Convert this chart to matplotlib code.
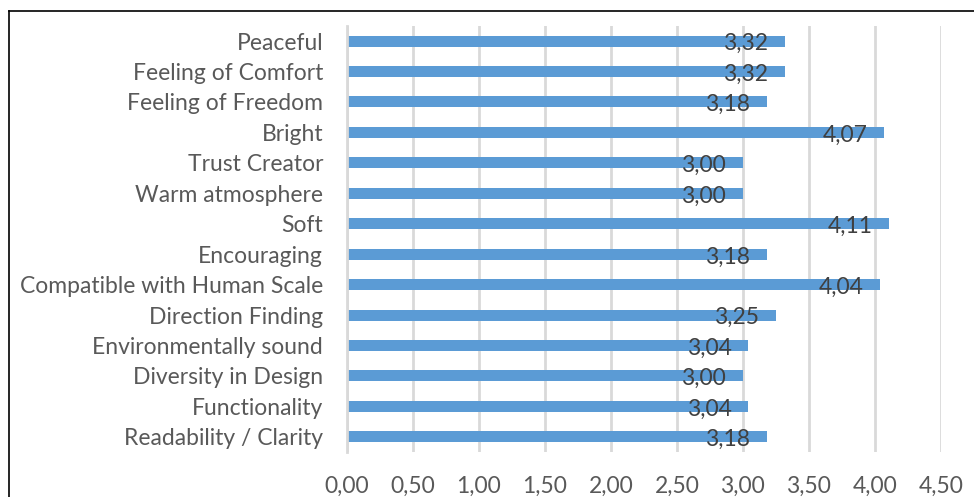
import matplotlib
matplotlib.use("Agg")
import matplotlib.pyplot as plt
from matplotlib.lines import Line2D
import numpy as np

plt.rcParams['font.family'] = ['Lato', 'DejaVu Sans']

categories = ["Peaceful", "Feeling of Comfort", "Feeling of Freedom", "Bright",
              "Trust Creator", "Warm atmosphere", "Soft", "Encouraging",
              "Compatible with Human Scale", "Direction Finding",
              "Environmentally sound", "Diversity in Design", "Functionality",
              "Readability / Clarity"]
values = [3.32, 3.32, 3.18, 4.07, 3.00, 3.00, 4.11, 3.18, 4.04, 3.25,
          3.04, 3.00, 3.04, 3.18]
xticks = [0, 0.5, 1.0, 1.5, 2.0, 2.5, 3.0, 3.5, 4.0, 4.5]

fig = plt.figure(figsize=(9.74, 4.97), dpi=100)
ax = fig.add_axes([0.356, 0.0905, 0.61, 0.8575])

y = np.arange(len(categories))
ax.barh(y, values, height=0.36, color="#5B9BD5", zorder=2)
ax.set_ylim(len(categories) - 0.5, -0.5)
ax.set_xlim(0, 4.5)

for yi, v in zip(y, values):
    ax.annotate(("%.2f" % v).replace(".", ","), (v, yi), xytext=(-12, -2),
                textcoords="offset points", ha="right", va="center",
                fontsize=16.5, color="#404040", zorder=3)

ax.set_yticks(y)
ax.set_yticklabels(categories)
ax.set_xticks(xticks)
ax.set_xticklabels([("%.2f" % t).replace(".", ",") for t in xticks])
ax.tick_params(axis="y", length=0, pad=17, labelsize=16.5, labelcolor="#595959")
ax.tick_params(axis="x", length=0, pad=17, labelsize=16.5, labelcolor="#595959")
ax.grid(axis="x", color="#d9d9d9", linewidth=2, zorder=0)
for s in ["top", "right", "bottom"]:
    ax.spines[s].set_visible(False)
ax.spines["left"].set_color("#d9d9d9")
ax.spines["left"].set_linewidth(2)

# outer border (chart frame cut by the screenshot)
fig.add_artist(Line2D([9 / 974, 1], [1 - 11 / 497, 1 - 11 / 497],
                      transform=fig.transFigure, color="black", linewidth=1.2))
fig.add_artist(Line2D([9 / 974, 9 / 974], [0, 1 - 11 / 497],
                      transform=fig.transFigure, color="black", linewidth=1.2))

fig.savefig("out.png", dpi=100)
